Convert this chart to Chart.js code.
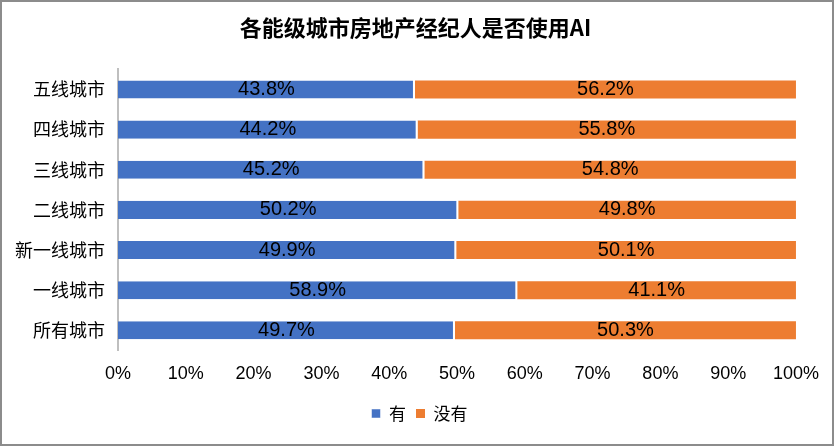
<!DOCTYPE html>
<html>
<head>
<meta charset="utf-8">
<script src="https://cdn.jsdelivr.net/npm/chart.js@4.4.1/dist/chart.umd.min.js"></script>
<style>
  html, body { margin:0; padding:0; background:#fff; }
  #wrap { position:relative; width:834px; height:446px; box-sizing:border-box; border:2px solid #8c8c8c; }
  #c { display:block; }
</style>
</head>
<body>
<div id="wrap"><canvas id="c" width="830" height="442"></canvas></div>
<script>
// 各能级城市 AI 使用比例
const cities = ["五线城市", "四线城市", "三线城市", "二线城市", "新一线城市", "一线城市", "所有城市"];
const useAI = [43.8, 44.2, 45.2, 50.2, 49.9, 58.9, 49.7];
const noAI  = [56.2, 55.8, 54.8, 49.8, 50.1, 41.1, 50.3];
const seriesNames = ["有", "没有"];
const xTicks = [0, 10, 20, 30, 40, 50, 60, 70, 80, 90, 100];

const CJK = '"Noto Sans CJK SC", "Noto Sans", sans-serif';
const NUM = '"Liberation Sans", Arial, sans-serif';

// draws the percentage label inside each bar segment
const barLabels = {
  id: "barLabels",
  afterDatasetsDraw(chart){
    const ctx = chart.ctx;
    ctx.save();
    ctx.font = "20px " + NUM;
    ctx.fillStyle = "#000";
    ctx.textAlign = "center";
    ctx.textBaseline = "middle";
    chart.data.datasets.forEach((ds, di)=>{
      const meta = chart.getDatasetMeta(di);
      meta.data.forEach((bar, i)=>{
        const x = (bar.x + bar.base) / 2;
        ctx.fillText(ds.data[i].toFixed(1) + "%", x, bar.y);
      });
    });
    ctx.restore();
  }
};

// title and legend sit centred on the whole canvas, not the padded box
const boxShift = {
  id: "boxShift",
  afterLayout(chart){
    const lg = chart.legend;
    lg.left += 19; lg.right += 19;
    lg.top -= 3; lg.bottom -= 3;
    const tb = chart.titleBlock;
    tb.left += 15; tb.right += 15;
  }
};

Chart.defaults.responsive = false;
Chart.defaults.animation = false;

new Chart(document.getElementById("c"), {
  type: "bar",
  data: {
    labels: cities,
    datasets: [
      { label: seriesNames[0], data: useAI, backgroundColor: "#4472C4",
        borderColor: "#fff", borderWidth: {left:0, top:0, bottom:0, right:2}, borderSkipped: false },
      { label: seriesNames[1], data: noAI, backgroundColor: "#ED7D31",
        borderColor: "#fff", borderWidth: 0 }
    ]
  },
  options: {
    indexAxis: "y",
    responsive: false,
    animation: false,
    layout: { padding: { left: 0, right: 33, top: 0, bottom: 9 } },
    plugins: {
      title: {
        display: true,
        text: "各能级城市房地产经纪人是否使用AI",
        color: "#000",
        font: { family: CJK, size: 22, weight: "bold" },
        padding: { top: 12, bottom: 29 }
      },
      legend: {
        position: "bottom",
        labels: {
          color: "#000",
          font: { family: CJK, size: 17 },
          usePointStyle: true,
          pointStyle: "rect",
          boxWidth: 9,
          boxHeight: 9,
          padding: 10
        }
      },
      tooltip: { enabled: false }
    },
    scales: {
      x: {
        stacked: true,
        min: 0,
        max: 100,
        grid: { display: false, drawTicks: false },
        border: { display: false },
        afterBuildTicks: (s)=>{ s.ticks = xTicks.map(v=>({ value: v })); },
        ticks: {
          color: "#000",
          font: { family: NUM, size: 18 },
          padding: 13,
          callback: (v)=> v + "%"
        }
      },
      y: {
        stacked: true,
        grid: { display: false, drawTicks: false },
        border: { display: true, color: "#bfbfbf", width: 2 },
        afterFit: (s)=>{ s.width = 116; },
        ticks: {
          color: "#000",
          font: { family: CJK, size: 18 },
          padding: 13
        }
      }
    },
    datasets: { bar: { barPercentage: 0.45, categoryPercentage: 1 } }
  },
  plugins: [barLabels, boxShift]
});
</script>
</body>
</html>
